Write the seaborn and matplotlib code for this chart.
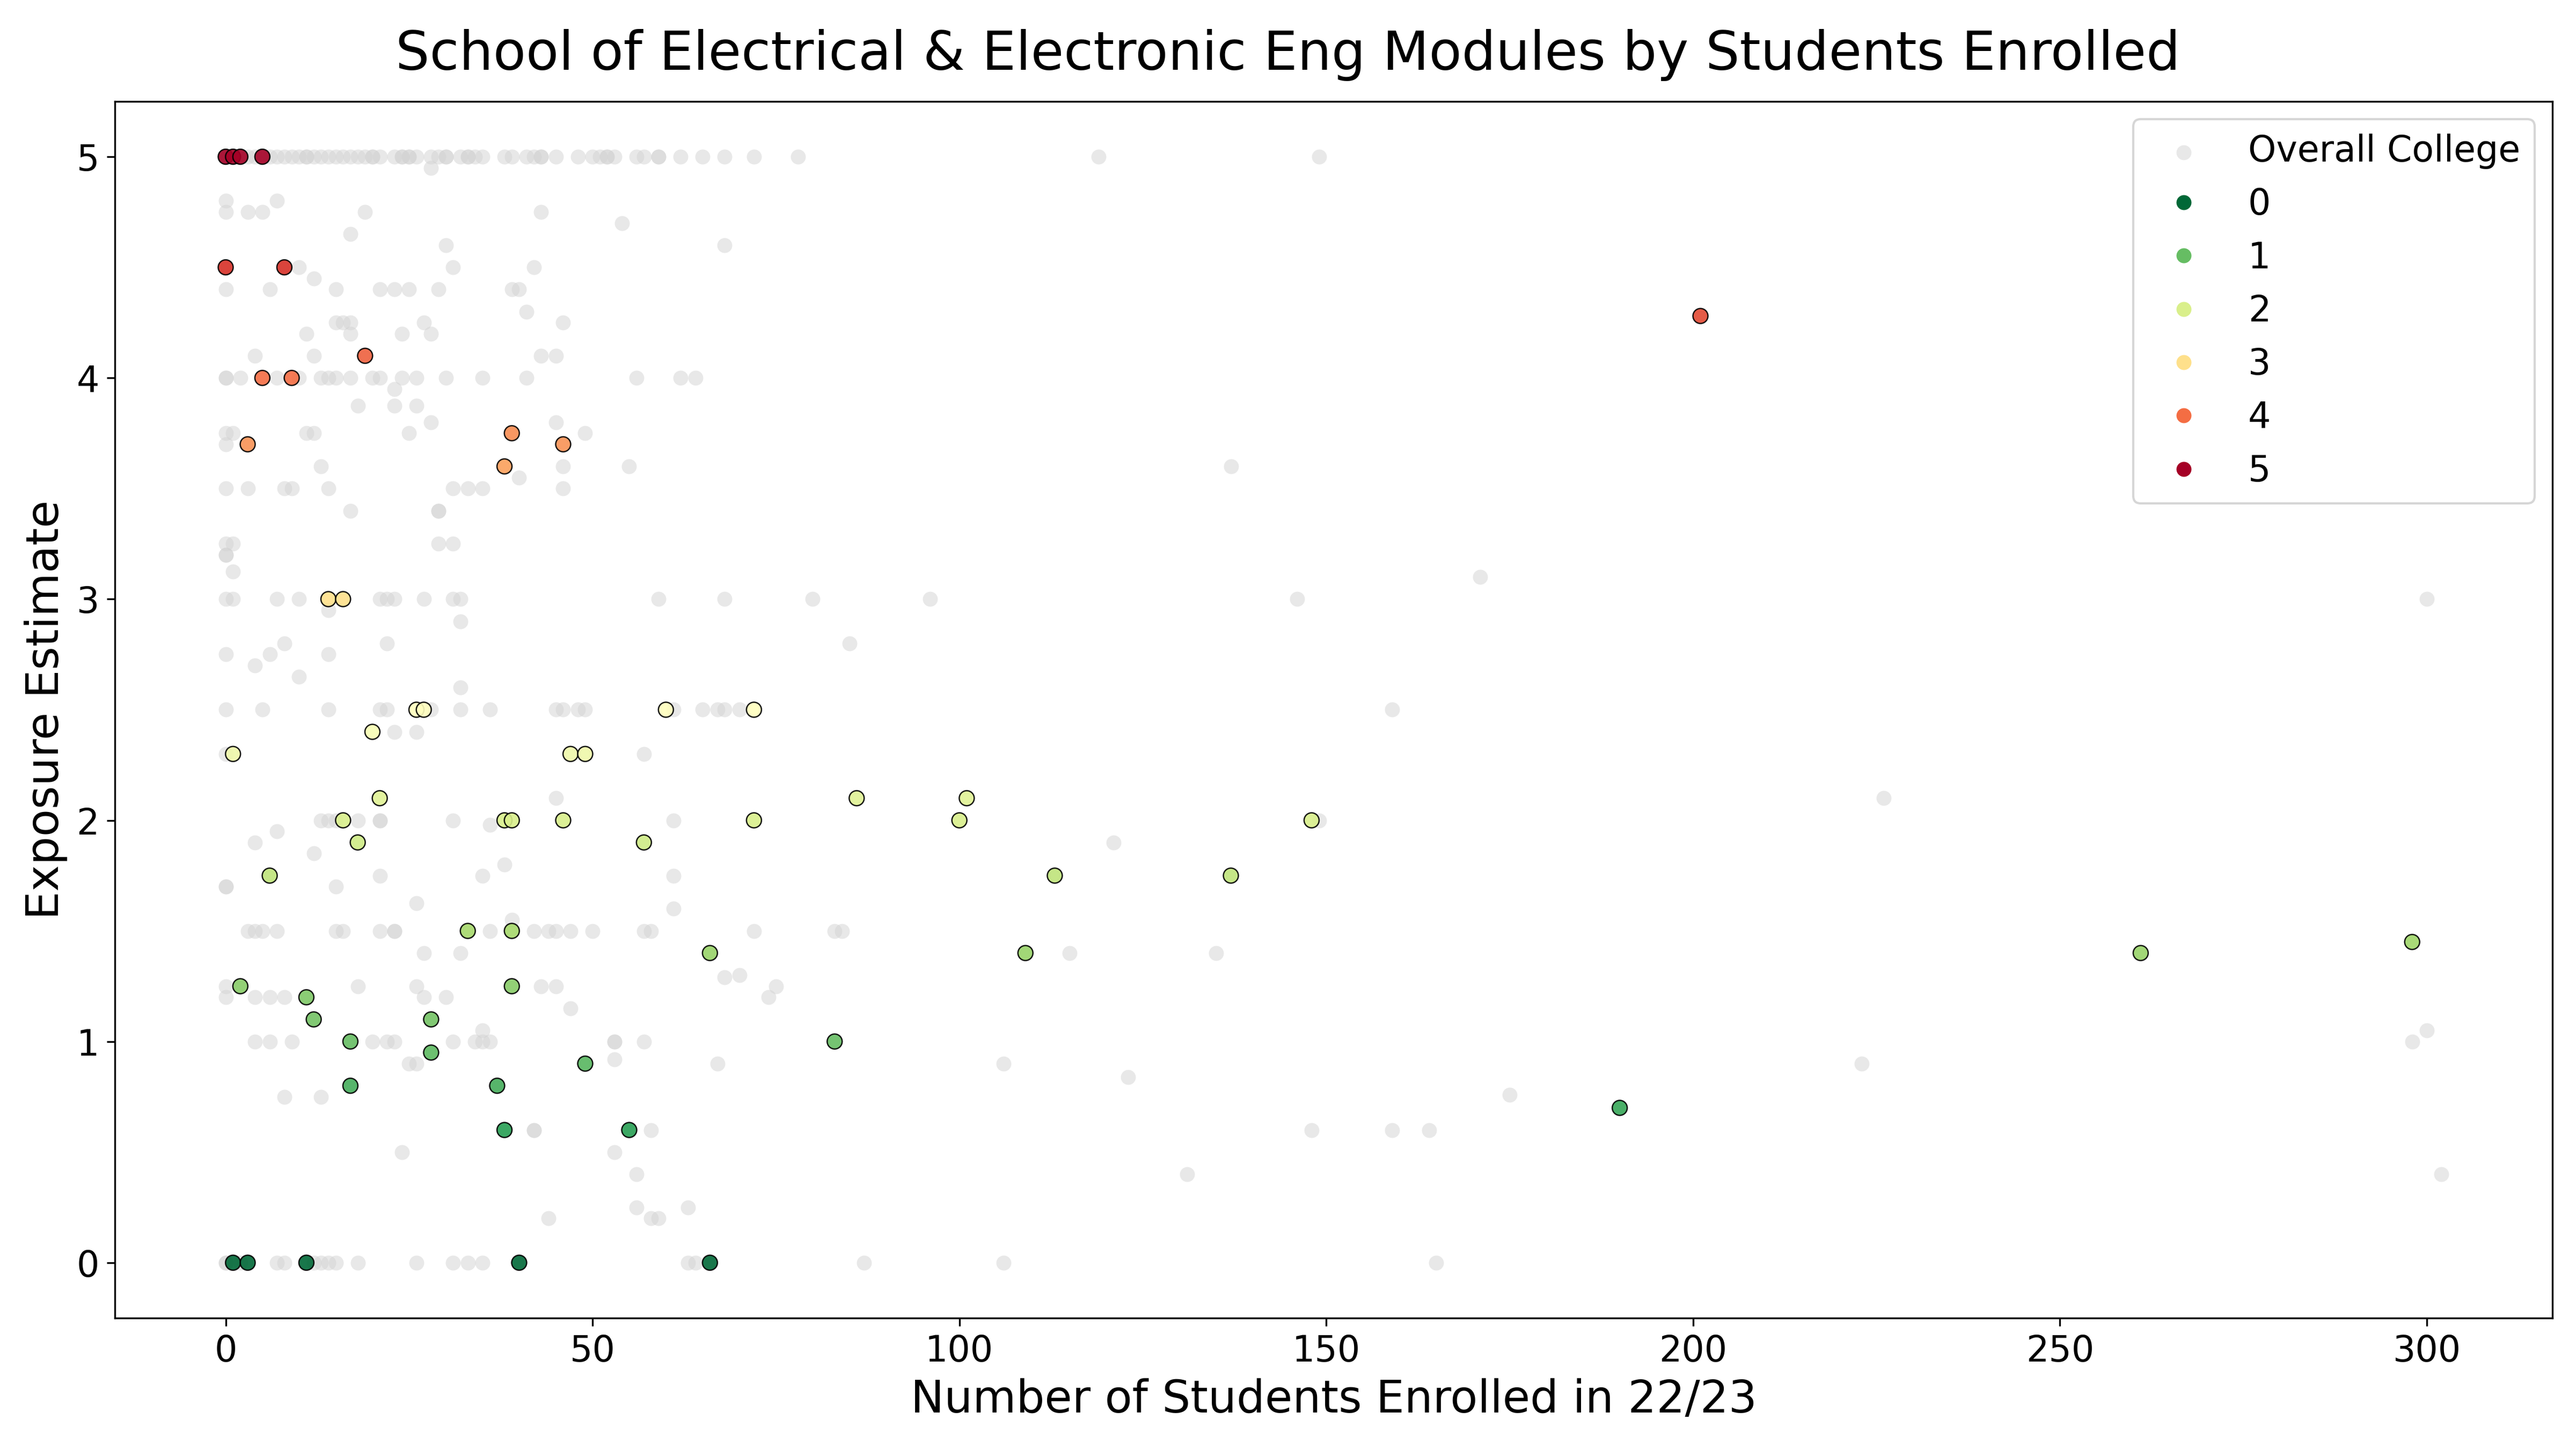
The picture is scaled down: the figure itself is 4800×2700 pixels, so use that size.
import pandas as pd
import numpy as np
import matplotlib.pyplot as plt
import seaborn as sns

title = "School of Electrical & Electronic Eng Modules by Students Enrolled"
x_label = "Number of Students Enrolled in 22/23"
y_label = "Exposure Estimate"
college_label = "Overall College"

# all modules in the college: (students enrolled, exposure estimate)
college_modules = [
    (0, 5.0), (1, 5.0), (2, 5.0), (3, 5.0), (4, 5.0), (5, 5.0), (6, 5.0), (7, 5.0), (8, 5.0),
    (9, 5.0), (10, 5.0), (11, 5.0), (11, 5.0), (12, 5.0), (13, 5.0), (14, 5.0), (15, 5.0),
    (16, 5.0), (17, 5.0), (18, 5.0), (19, 5.0), (20, 5.0), (20, 5.0), (21, 5.0), (23, 5.0),
    (24, 5.0), (24, 5.0), (25, 5.0), (25, 5.0), (26, 5.0), (28, 5.0), (29, 5.0), (30, 5.0),
    (30, 5.0), (32, 5.0), (33, 5.0), (33, 5.0), (34, 5.0), (35, 5.0), (38, 5.0), (39, 5.0),
    (41, 5.0), (42, 5.0), (43, 5.0), (43, 5.0), (45, 5.0), (48, 5.0), (50, 5.0), (51, 5.0),
    (52, 5.0), (52, 5.0), (53, 5.0), (56, 5.0), (57, 5.0), (59, 5.0), (59, 5.0), (62, 5.0),
    (65, 5.0), (68, 5.0), (72, 5.0), (78, 5.0), (119, 5.0), (149, 5.0),
    (28, 4.95), (0, 4.8), (7, 4.8),
    (0, 4.75), (3, 4.75), (5, 4.75), (19, 4.75), (43, 4.75),
    (54, 4.7), (17, 4.65), (30, 4.6), (68, 4.6),
    (10, 4.5), (31, 4.5), (42, 4.5), (12, 4.45),
    (0, 4.4), (6, 4.4), (15, 4.4), (21, 4.4), (23, 4.4), (25, 4.4), (29, 4.4), (39, 4.4), (40, 4.4),
    (41, 4.3),
    (15, 4.25), (16, 4.25), (17, 4.25), (27, 4.25), (46, 4.25),
    (11, 4.2), (17, 4.2), (24, 4.2), (28, 4.2),
    (4, 4.1), (12, 4.1), (43, 4.1), (45, 4.1),
    (0, 4.0), (0, 4.0), (2, 4.0), (7, 4.0), (10, 4.0), (13, 4.0), (14, 4.0), (15, 4.0), (17, 4.0),
    (20, 4.0), (21, 4.0), (24, 4.0), (26, 4.0), (30, 4.0), (35, 4.0), (41, 4.0), (56, 4.0),
    (62, 4.0), (64, 4.0),
    (23, 3.95), (18, 3.875), (23, 3.875), (26, 3.875), (28, 3.8), (45, 3.8),
    (0, 3.75), (1, 3.75), (11, 3.75), (12, 3.75), (25, 3.75), (49, 3.75),
    (0, 3.7), (13, 3.6), (46, 3.6), (55, 3.6), (137, 3.6), (40, 3.55),
    (0, 3.5), (3, 3.5), (8, 3.5), (9, 3.5), (14, 3.5), (31, 3.5), (33, 3.5), (35, 3.5), (46, 3.5),
    (17, 3.4), (29, 3.4), (29, 3.4),
    (0, 3.25), (1, 3.25), (29, 3.25), (31, 3.25), (0, 3.2), (0, 3.2), (1, 3.125), (171, 3.1),
    (0, 3.0), (1, 3.0), (7, 3.0), (10, 3.0), (21, 3.0), (22, 3.0), (23, 3.0), (27, 3.0),
    (31, 3.0), (32, 3.0), (59, 3.0), (68, 3.0), (80, 3.0), (96, 3.0), (146, 3.0), (300, 3.0),
    (14, 2.95), (32, 2.9), (8, 2.8), (22, 2.8), (85, 2.8),
    (0, 2.75), (6, 2.75), (14, 2.75), (4, 2.7), (10, 2.65), (32, 2.6),
    (0, 2.5), (5, 2.5), (14, 2.5), (21, 2.5), (22, 2.5), (28, 2.5), (32, 2.5), (36, 2.5),
    (45, 2.5), (46, 2.5), (48, 2.5), (49, 2.5), (61, 2.5), (65, 2.5), (67, 2.5), (68, 2.5),
    (70, 2.5), (159, 2.5),
    (23, 2.4), (26, 2.4), (0, 2.3), (57, 2.3), (45, 2.1), (226, 2.1),
    (13, 2.0), (14, 2.0), (15, 2.0), (18, 2.0), (21, 2.0), (21, 2.0), (31, 2.0), (61, 2.0),
    (149, 2.0), (36, 1.98), (7, 1.95), (4, 1.9), (121, 1.9), (12, 1.85), (38, 1.8),
    (21, 1.75), (35, 1.75), (61, 1.75), (0, 1.7), (0, 1.7), (15, 1.7),
    (26, 1.625), (61, 1.6), (39, 1.55),
    (3, 1.5), (4, 1.5), (5, 1.5), (7, 1.5), (15, 1.5), (16, 1.5), (21, 1.5), (23, 1.5),
    (23, 1.5), (36, 1.5), (42, 1.5), (44, 1.5), (45, 1.5), (47, 1.5), (50, 1.5), (57, 1.5),
    (58, 1.5), (72, 1.5), (83, 1.5), (84, 1.5),
    (27, 1.4), (32, 1.4), (115, 1.4), (135, 1.4), (70, 1.3), (68, 1.29),
    (0, 1.25), (18, 1.25), (26, 1.25), (43, 1.25), (45, 1.25), (75, 1.25),
    (0, 1.2), (4, 1.2), (6, 1.2), (8, 1.2), (27, 1.2), (30, 1.2), (74, 1.2),
    (47, 1.15), (35, 1.05), (300, 1.05),
    (4, 1.0), (6, 1.0), (9, 1.0), (20, 1.0), (22, 1.0), (23, 1.0), (31, 1.0), (34, 1.0),
    (35, 1.0), (36, 1.0), (53, 1.0), (53, 1.0), (57, 1.0), (298, 1.0),
    (53, 0.92), (25, 0.9), (26, 0.9), (67, 0.9), (106, 0.9), (223, 0.9),
    (123, 0.84), (175, 0.76), (8, 0.75), (13, 0.75),
    (42, 0.6), (42, 0.6), (58, 0.6), (148, 0.6), (159, 0.6), (164, 0.6),
    (24, 0.5), (53, 0.5), (56, 0.4), (131, 0.4), (302, 0.4),
    (56, 0.25), (63, 0.25), (44, 0.2), (58, 0.2), (59, 0.2),
    (0, 0.0), (0, 0.0), (2, 0.0), (7, 0.0), (8, 0.0), (12, 0.0), (13, 0.0), (14, 0.0),
    (15, 0.0), (18, 0.0), (26, 0.0), (31, 0.0), (33, 0.0), (35, 0.0), (63, 0.0), (64, 0.0),
    (87, 0.0), (106, 0.0), (165, 0.0),
]

# modules of the School of Electrical & Electronic Eng
school_modules = [
    (0, 5.0), (1, 5.0), (2, 5.0), (5, 5.0), (0, 4.5), (8, 4.5), (201, 4.28), (19, 4.1),
    (5, 4.0), (9, 4.0), (39, 3.75), (3, 3.7), (46, 3.7), (38, 3.6), (14, 3.0), (16, 3.0),
    (26, 2.5), (27, 2.5), (60, 2.5), (72, 2.5), (20, 2.4), (1, 2.3), (47, 2.3), (49, 2.3),
    (21, 2.1), (86, 2.1), (101, 2.1),
    (16, 2.0), (38, 2.0), (39, 2.0), (46, 2.0), (72, 2.0), (100, 2.0), (148, 2.0),
    (18, 1.9), (57, 1.9), (6, 1.75), (113, 1.75), (137, 1.75), (33, 1.5), (39, 1.5),
    (298, 1.45), (66, 1.4), (109, 1.4), (261, 1.4), (2, 1.25), (39, 1.25), (11, 1.2),
    (12, 1.1), (28, 1.1), (17, 1.0), (83, 1.0), (28, 0.95), (49, 0.9), (17, 0.8), (37, 0.8),
    (190, 0.7), (38, 0.6), (55, 0.6), (1, 0.0), (3, 0.0), (11, 0.0), (40, 0.0), (66, 0.0),
]

college = pd.DataFrame(college_modules, columns=["enrolled", "exposure"])
school = pd.DataFrame(school_modules, columns=["enrolled", "exposure"])


fig, ax = plt.subplots(figsize=(16, 9))

sns.scatterplot(
    data=college,
    x="enrolled",
    y="exposure",
    color="lightgray",
    alpha=0.5,
    s=45,
    linewidth=0,
    label=college_label,
    ax=ax
)

sns.scatterplot(
    data=school,
    x="enrolled",
    y="exposure",
    hue="exposure",
    palette="RdYlGn_r",
    hue_norm=(0, 5),
    edgecolor="black",
    linewidth=0.6,
    alpha=0.9,
    s=45,
    ax=ax
)

fig.suptitle(title, fontsize=24)
ax.set_xlabel(x_label, fontsize=20)
ax.set_ylabel(y_label, fontsize=20)
ax.tick_params(labelsize=16)

# rebuild legend without the hue title, plain markers without edges
handles, labels = ax.get_legend_handles_labels()
for h in handles:
    if hasattr(h, "set_markeredgewidth"):
        h.set_markeredgewidth(0)
        h.set_alpha(1)
ax.legend(handles, labels, loc="upper right", fontsize=16)

plt.subplots_adjust(left=0.0446, right=0.9908, top=0.930, bottom=0.0904)

plt.savefig("out.png", dpi=300)
